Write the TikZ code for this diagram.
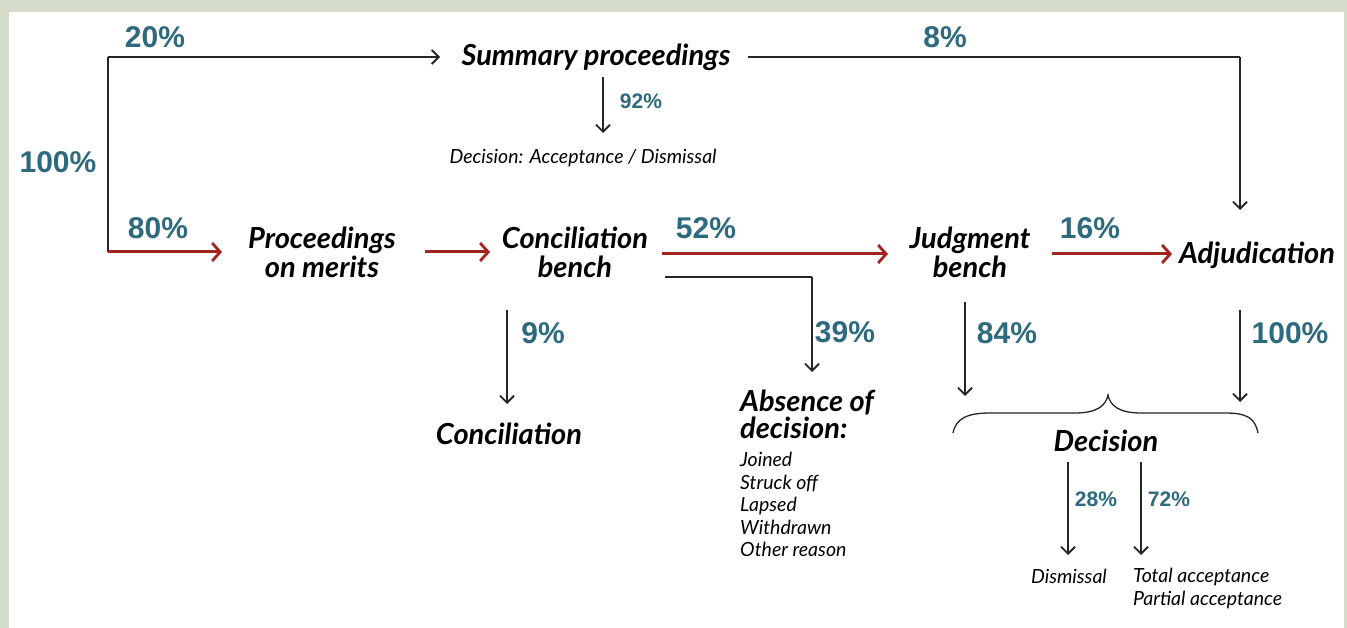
\documentclass[tikz,border=0pt]{standalone}
\usepackage{fontspec}
\setmainfont{Lato}
\newfontfamily\pctfont{Liberation Sans}
\usetikzlibrary{arrows.meta}
\definecolor{framegray}{HTML}{D4DBCB}
\definecolor{pctteal}{HTML}{2E6A7E}
\definecolor{flowred}{HTML}{A3241F}
\tikzset{
  big/.style={font=\fontsize{29}{29}\selectfont\bfseries\itshape, align=center, inner sep=0pt},
  bigleft/.style={font=\fontsize{29}{27}\selectfont\bfseries\itshape, align=left, inner sep=0pt},
  small/.style={font=\fontsize{19.5}{22.5}\selectfont\itshape, inner sep=0pt},
  smallleft/.style={font=\fontsize{19.5}{22.5}\selectfont\itshape, align=left, inner sep=0pt},
  pct/.style={font=\fontsize{30}{32}\selectfont\pctfont\bfseries, text=pctteal, inner sep=0pt},
  pctsm/.style={font=\fontsize{21}{24}\selectfont\pctfont\bfseries, text=pctteal, inner sep=0pt},
  blk/.style={draw=black!85, line width=1.5pt, -{Straight Barb[length=7pt,width=14pt,line width=1.8pt]}},
  blkline/.style={draw=black!85, line width=1.5pt},
  redarr/.style={draw=flowred, line width=3pt, -{Straight Barb[length=8pt,width=18pt,line width=2.8pt]}},
}
\begin{document}
\begin{tikzpicture}[x=1pt,y=-1pt]
\useasboundingbox (0,0) rectangle (1347,628);
\fill[framegray] (0,0) rectangle (1347,628);
\fill[white] (9,12) rectangle (1344,628);

% nodes
\node[big] (summary) at (596,57) {Summary proceedings};
\node[big] (merits) at (322,252) {Proceedings\\on merits};
\node[big] (concb) at (575,252) {Conciliation\\bench};
\node[big] (judg) at (970,252) {Judgment\\bench};
\node[big] (adj) at (1257,255) {Adjudication};
\node[big] (concil) at (509,434) {Conciliation};
\node[big] (decision) at (1106,441) {Decision};
\node[small] (sumdec) at (583,158) {Decision: Acceptance / Dismissal};
\node[bigleft, anchor=north west] (absence) at (740,390) {Absence of\\decision:};
\node[smallleft, anchor=north west] (reasons) at (740,452) {Joined\\Struck off\\Lapsed\\Withdrawn\\Other reason};
\node[small] (dismissal) at (1069,576) {Dismissal};
\node[smallleft, anchor=north west] (accept) at (1133,568) {Total acceptance\\Partial acceptance};

% coordinates
\coordinate (corner) at (108,57);
\coordinate (start) at (108,252);
\coordinate (topright) at (1240,57);
\coordinate (adjtop) at (1240,210);
\coordinate (branch) at (665,277);
\coordinate (branchc) at (812,277);
\coordinate (absarrow) at (812,372);

% percentages
\node[pct] (p100) at (58,162) {100\%};
\node[pct] (p20) at (155,37) {20\%};
\node[pct] (p80) at (158,228) {80\%};
\node[pct] (p8) at (945,37) {8\%};
\node[pct] (p52) at (706,228) {52\%};
\node[pct] (p16) at (1090,228) {16\%};
\node[pct] (p9) at (543,333) {9\%};
\node[pct] (p39) at (845,332) {39\%};
\node[pct] (p84) at (1007,333) {84\%};
\node[pct] (p100b) at (1290,333) {100\%};
\node[pctsm] (p92) at (641,101) {92\%};
\node[pctsm] (p28) at (1096,499) {28\%};
\node[pctsm] (p72) at (1169,499) {72\%};

% connectors
\draw[blkline] (start) -- (corner);
\draw[blk] (corner) -- (440,57);
\draw[blkline] (748,57) -- (topright);
\draw[blk] (topright) -- (adjtop);
\draw[blk] (603,77) -- (603,133);
\draw[redarr] (start) -- (222,252);
\draw[redarr] (425,252) -- (490,252);
\draw[redarr] (662,254) -- (888,254);
\draw[redarr] (1052,254) -- (1172,254);
\draw[blk] (507,310) -- (507,404);
\draw[blkline] (branch) -- (branchc);
\draw[blk] (branchc) -- (absarrow);
\draw[blk] (965,302) -- (965,396);
\draw[blk] (1240,310) -- (1240,402);
\draw[blk] (1068,462) -- (1068,555);
\draw[blk] (1141,462) -- (1141,555);

% brace
\draw[black!85, line width=1.3pt] (953,433) .. controls (956,418) and (968,413) .. (990,413)
  -- (1075,413) .. controls (1098,413) and (1106,405) .. (1108,395)
  .. controls (1110,405) and (1118,413) .. (1141,413)
  -- (1225,413) .. controls (1247,413) and (1255,418) .. (1258,433);
\end{tikzpicture}
\end{document}
